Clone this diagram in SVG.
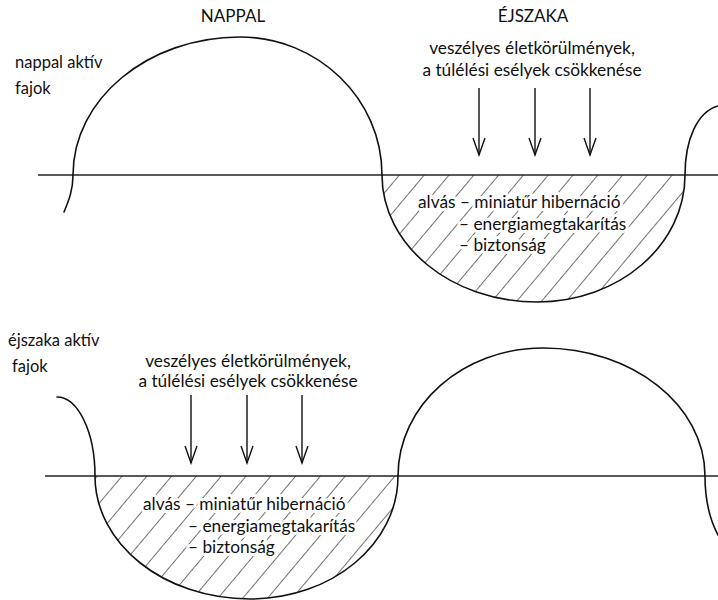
<svg xmlns="http://www.w3.org/2000/svg" width="718" height="600" viewBox="0 0 718 600">
  <style>
    .txt { font-family: Lato, "Liberation Sans", sans-serif; fill: #111; }
    .head { font-size: 17px; }
    .side { font-size: 16.5px; }
    .body { font-size: 17.3px; }
    .mid { text-anchor: middle; }
    .halo { stroke: #fff; stroke-width: 6; stroke-linejoin: round; paint-order: stroke; }
    .wave { fill: none; stroke: #111; stroke-width: 1.6; stroke-linecap: round; }
    .base { fill: none; stroke: #222; stroke-width: 1.3; }
    .arrow { fill: none; stroke: #111; stroke-width: 1.4; marker-end: url(#vhead); }
  </style>
  <defs>
    <!-- open V arrowhead -->
    <marker id="vhead" viewBox="-19 -8 21 16" refX="0" refY="0" markerWidth="21" markerHeight="16" markerUnits="userSpaceOnUse" orient="auto">
      <path d="M -17 -6 L 0 0 L -17 6" fill="none" stroke="#111" stroke-width="1.4"/>
    </marker>
    <!-- diagonal hatching for the sleep period -->
    <pattern id="hatch" patternUnits="userSpaceOnUse" width="19" height="20" patternTransform="rotate(40)">
      <line x1="0" y1="-2" x2="0" y2="22" stroke="#111" stroke-width="1.2"/>
    </pattern>
    <clipPath id="troughTop">
      <path d="M 382 175 C 382 245, 451 302, 537 302 C 619 302, 685 245, 685 175 Z"/>
    </clipPath>
    <clipPath id="troughBottom">
      <path d="M 95 476 C 95 544, 164 599, 250 599 C 332 599, 398 544, 398 476 Z"/>
    </clipPath>
  </defs>

  <!-- column headings -->
  <g id="headings" class="txt head">
    <text x="233" y="22" class="mid">NAPPAL</text>
    <text x="533" y="22" class="mid">ÉJSZAKA</text>
  </g>

  <!-- upper panel: day-active species -->
  <g id="day-label" class="txt side">
    <text x="15" y="68">nappal aktív</text>
    <text x="15" y="94">fajok</text>
  </g>
  <g id="day-hatch">
    <rect x="370" y="170" width="330" height="140" fill="url(#hatch)" clip-path="url(#troughTop)"/>
  </g>
  <g id="day-axis">
    <line class="base" x1="38" y1="175" x2="718" y2="175"/>
  </g>
  <g id="day-wave">
    <path class="wave" d="M 64 212 C 69 200, 73 190, 73 175 C 73 99, 148 37, 240 37 C 318 37, 382 99, 382 175 C 382 245, 451 302, 537 302 C 619 302, 685 245, 685 175 C 685 140, 697 112, 718 106"/>
  </g>
  <g id="day-danger" class="txt body">
    <text x="532" y="54" class="mid">veszélyes életkörülmények,</text>
    <text x="532" y="76" class="mid">a túlélési esélyek csökkenése</text>
  </g>
  <g id="day-sleep" class="txt body halo">
    <text x="418" y="208">alvás – miniatűr hibernáció</text>
    <text x="459" y="230">– energiamegtakarítás</text>
    <text x="459" y="251">– biztonság</text>
  </g>

  <!-- lower panel: night-active species -->
  <g id="night-label" class="txt side">
    <text x="8" y="346">éjszaka aktív</text>
    <text x="12" y="372">fajok</text>
  </g>
  <g id="night-hatch">
    <rect x="85" y="470" width="320" height="130" fill="url(#hatch)" clip-path="url(#troughBottom)"/>
  </g>
  <g id="night-axis">
    <line class="base" x1="45" y1="476" x2="718" y2="476"/>
  </g>
  <g id="night-wave">
    <path class="wave" d="M 57 397 C 78 397, 95 432, 95 476 C 95 544, 164 599, 250 599 C 332 599, 398 544, 398 476 C 398 405, 463 348, 543 348 C 632 348, 705 405, 705 476 C 705 500, 710 520, 718 535"/>
  </g>
  <g id="night-danger" class="txt body">
    <text x="248" y="367" class="mid">veszélyes életkörülmények,</text>
    <text x="248" y="387" class="mid">a túlélési esélyek csökkenése</text>
  </g>
  <g id="night-sleep" class="txt body halo">
    <text x="143" y="510">alvás – miniatűr hibernáció</text>
    <text x="188" y="532">– energiamegtakarítás</text>
    <text x="188" y="553">– biztonság</text>
  </g>

  <!-- pressure arrows -->
  <g id="connectors">
    <line class="arrow" x1="479" y1="88" x2="479" y2="155"/>
    <line class="arrow" x1="535" y1="88" x2="535" y2="155"/>
    <line class="arrow" x1="590" y1="88" x2="590" y2="155"/>
    <line class="arrow" x1="191" y1="395" x2="191" y2="463"/>
    <line class="arrow" x1="247" y1="395" x2="247" y2="463"/>
    <line class="arrow" x1="302" y1="395" x2="302" y2="463"/>
  </g>
</svg>
